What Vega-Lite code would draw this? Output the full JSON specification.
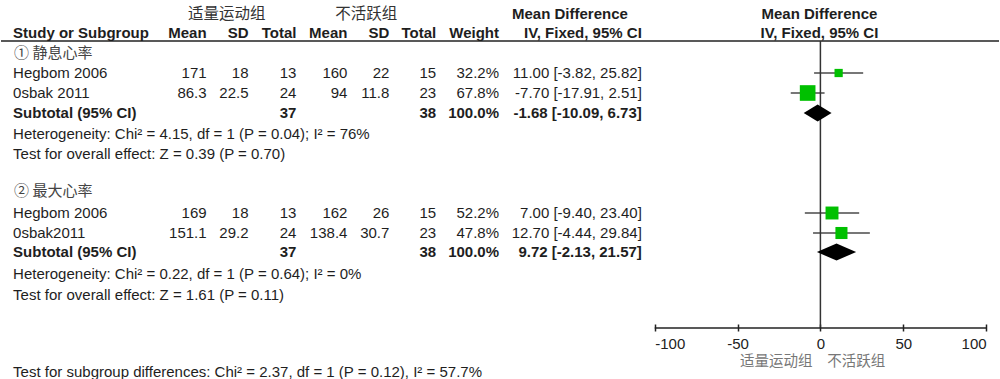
{
  "$schema": "https://vega.github.io/schema/vega-lite/v6.json",
  "width": 1000,
  "height": 379,
  "padding": 0,
  "autosize": {"type": "fit", "contains": "padding"},
  "background": "white",
  "config": {
    "view": {"stroke": null},
    "text": {"font": "Liberation Sans", "fontSize": 15, "color": "#1e1e1e", "baseline": "middle"}
  },
  "datasets": {
    "studies": [
      {"grp": 1, "row": 3, "study": "Hegbom 2006", "m1": 171, "sd1": 18, "n1": 13, "m2": 160, "sd2": 22, "n2": 15, "w": 0.322, "md": 11.0, "lo": -3.82, "hi": 25.82, "ci": "11.00 [-3.82, 25.82]"},
      {"grp": 1, "row": 4, "study": "0sbak 2011", "m1": 86.3, "sd1": 22.5, "n1": 24, "m2": 94, "sd2": 11.8, "n2": 23, "w": 0.678, "md": -7.7, "lo": -17.91, "hi": 2.51, "ci": "-7.70 [-17.91, 2.51]"},
      {"grp": 2, "row": 10, "study": "Hegbom 2006", "m1": 169, "sd1": 18, "n1": 13, "m2": 162, "sd2": 26, "n2": 15, "w": 0.522, "md": 7.0, "lo": -9.4, "hi": 23.4, "ci": "7.00 [-9.40, 23.40]"},
      {"grp": 2, "row": 11, "study": "0sbak2011", "m1": 151.1, "sd1": 29.2, "n1": 24, "m2": 138.4, "sd2": 30.7, "n2": 23, "w": 0.478, "md": 12.7, "lo": -4.44, "hi": 29.84, "ci": "12.70 [-4.44, 29.84]"}
    ],
    "subtotals": [
      {"grp": 1, "row": 5, "label": "Subtotal (95% CI)", "n1": 37, "n2": 38, "w": 1.0, "md": -1.68, "lo": -10.09, "hi": 6.73, "ci": "-1.68 [-10.09, 6.73]"},
      {"grp": 2, "row": 11.95, "label": "Subtotal (95% CI)", "n1": 37, "n2": 38, "w": 1.0, "md": 9.72, "lo": -2.13, "hi": 21.57, "ci": "9.72 [-2.13, 21.57]"}
    ],
    "notes": [
      {"row": 6.05, "text": "Heterogeneity: Chi² = 4.15, df = 1 (P = 0.04); I² = 76%"},
      {"row": 7.05, "text": "Test for overall effect: Z = 0.39 (P = 0.70)"},
      {"row": 13.05, "text": "Heterogeneity: Chi² = 0.22, df = 1 (P = 0.64); I² = 0%"},
      {"row": 14.1, "text": "Test for overall effect: Z = 1.61 (P = 0.11)"}
    ],
    "footer": [
      {"row": 17.95, "text": "Test for subgroup differences: Chi² = 2.37, df = 1 (P = 0.12), I² = 57.7%"}
    ],
    "groups": [
      {"row": 2, "text": "① 静息心率"},
      {"row": 8.9, "text": "② 最大心率"}
    ],
    "one": [{"k": 1}]
  },
  "layer": [
    {
      "data": {"name": "studies"},
      "mark": {"type": "rule", "color": "#4a4a4a", "strokeWidth": 1.6},
      "encoding": {
        "x": {
          "field": "lo", "type": "quantitative",
          "scale": {"domain": [-494.6, 107.8], "nice": false, "zero": false},
          "axis": {
            "values": [-100, -50, 0, 50, 100], "domain": false, "grid": false,
            "labelOverlap": false, "labelBound": false, "offset": -55,
            "tickSize": 7, "tickWidth": 1.5, "tickColor": "#222",
            "labelFont": "Liberation Sans", "labelFontSize": 15, "labelColor": "#222",
            "labelPadding": 5, "title": null,
            "labelExpr": "'' + datum.value",
            "labelAlign": {"expr": "datum.value == -100 ? 'left' : datum.value == 100 ? 'right' : 'center'"}
          }
        },
        "x2": {"field": "hi"},
        "y": {"field": "row", "type": "quantitative", "scale": {"domain": [-0.65, 18.3], "reverse": true, "nice": false, "zero": false}, "axis": null}
      }
    },
    {
      "data": {"name": "one"},
      "mark": {"type": "rule", "color": "#222", "strokeWidth": 1.5},
      "encoding": {"y": {"datum": 1.4, "type": "quantitative", "axis": null}}
    },
    {
      "data": {"name": "one"},
      "mark": {"type": "rule", "color": "#333", "strokeWidth": 1.5},
      "encoding": {
        "x": {"datum": 0, "type": "quantitative"},
        "y": {"datum": 1.4, "type": "quantitative", "axis": null},
        "y2": {"datum": 15.75}
      }
    },
    {
      "data": {"name": "one"},
      "mark": {"type": "rule", "color": "#222", "strokeWidth": 1.5},
      "encoding": {
        "x": {"datum": -100, "type": "quantitative"},
        "x2": {"datum": 100},
        "y": {"datum": 15.75, "type": "quantitative", "axis": null}
      }
    },
    {
      "data": {"name": "studies"},
      "mark": {"type": "point", "shape": "square", "filled": true, "color": "#00c000", "opacity": 1},
      "encoding": {
        "x": {"field": "md", "type": "quantitative"},
        "y": {"field": "row", "type": "quantitative", "axis": null},
        "size": {"field": "w", "type": "quantitative", "scale": {"type": "linear", "domain": [0.322, 0.678], "range": [68, 245], "zero": false, "nice": false}, "legend": null}
      }
    },
    {
      "data": {"name": "subtotals"},
      "transform": [
        {"fold": ["lo", "md", "hi"], "as": ["k", "xv"]},
        {"calculate": "datum.k === 'md' ? datum.row - 0.43 : datum.row", "as": "yt"},
        {"calculate": "datum.k === 'md' ? datum.row + 0.43 : datum.row", "as": "yb"}
      ],
      "mark": {"type": "area", "orient": "vertical", "color": "black", "opacity": 1},
      "encoding": {
        "x": {"field": "xv", "type": "quantitative"},
        "y": {"field": "yt", "type": "quantitative", "axis": null},
        "y2": {"field": "yb"},
        "detail": {"field": "grp", "type": "nominal"}
      }
    },
    {"data": {"name": "studies"}, "mark": {"type": "text", "align": "left"}, "encoding": {"x": {"datum": -487.3, "type": "quantitative"}, "y": {"field": "row", "type": "quantitative", "axis": null}, "text": {"field": "study", "type": "nominal"}}},
    {"data": {"name": "studies"}, "mark": {"type": "text", "align": "right"}, "encoding": {"x": {"datum": -370.5, "type": "quantitative"}, "y": {"field": "row", "type": "quantitative", "axis": null}, "text": {"field": "m1", "type": "nominal"}}},
    {"data": {"name": "studies"}, "mark": {"type": "text", "align": "right"}, "encoding": {"x": {"datum": -345.2, "type": "quantitative"}, "y": {"field": "row", "type": "quantitative", "axis": null}, "text": {"field": "sd1", "type": "nominal"}}},
    {"data": {"name": "studies"}, "mark": {"type": "text", "align": "right"}, "encoding": {"x": {"datum": -316.3, "type": "quantitative"}, "y": {"field": "row", "type": "quantitative", "axis": null}, "text": {"field": "n1", "type": "nominal"}}},
    {"data": {"name": "studies"}, "mark": {"type": "text", "align": "right"}, "encoding": {"x": {"datum": -285.5, "type": "quantitative"}, "y": {"field": "row", "type": "quantitative", "axis": null}, "text": {"field": "m2", "type": "nominal"}}},
    {"data": {"name": "studies"}, "mark": {"type": "text", "align": "right"}, "encoding": {"x": {"datum": -260.2, "type": "quantitative"}, "y": {"field": "row", "type": "quantitative", "axis": null}, "text": {"field": "sd2", "type": "nominal"}}},
    {"data": {"name": "studies"}, "mark": {"type": "text", "align": "right"}, "encoding": {"x": {"datum": -231.9, "type": "quantitative"}, "y": {"field": "row", "type": "quantitative", "axis": null}, "text": {"field": "n2", "type": "nominal"}}},
    {"data": {"name": "studies"}, "mark": {"type": "text", "align": "right"}, "encoding": {"x": {"datum": -194.0, "type": "quantitative"}, "y": {"field": "row", "type": "quantitative", "axis": null}, "text": {"field": "w", "type": "quantitative", "format": ".1%"}}},
    {"data": {"name": "studies"}, "mark": {"type": "text", "align": "right"}, "encoding": {"x": {"datum": -107.8, "type": "quantitative"}, "y": {"field": "row", "type": "quantitative", "axis": null}, "text": {"field": "ci", "type": "nominal"}}},
    {"data": {"name": "subtotals"}, "mark": {"type": "text", "align": "left", "fontWeight": "bold"}, "encoding": {"x": {"datum": -487.3, "type": "quantitative"}, "y": {"field": "row", "type": "quantitative", "axis": null}, "text": {"field": "label", "type": "nominal"}}},
    {"data": {"name": "subtotals"}, "mark": {"type": "text", "align": "right", "fontWeight": "bold"}, "encoding": {"x": {"datum": -316.3, "type": "quantitative"}, "y": {"field": "row", "type": "quantitative", "axis": null}, "text": {"field": "n1", "type": "nominal"}}},
    {"data": {"name": "subtotals"}, "mark": {"type": "text", "align": "right", "fontWeight": "bold"}, "encoding": {"x": {"datum": -231.9, "type": "quantitative"}, "y": {"field": "row", "type": "quantitative", "axis": null}, "text": {"field": "n2", "type": "nominal"}}},
    {"data": {"name": "subtotals"}, "mark": {"type": "text", "align": "right", "fontWeight": "bold"}, "encoding": {"x": {"datum": -194.0, "type": "quantitative"}, "y": {"field": "row", "type": "quantitative", "axis": null}, "text": {"field": "w", "type": "quantitative", "format": ".1%"}}},
    {"data": {"name": "subtotals"}, "mark": {"type": "text", "align": "right", "fontWeight": "bold"}, "encoding": {"x": {"datum": -107.8, "type": "quantitative"}, "y": {"field": "row", "type": "quantitative", "axis": null}, "text": {"field": "ci", "type": "nominal"}}},
    {"data": {"name": "notes"}, "mark": {"type": "text", "align": "left"}, "encoding": {"x": {"datum": -487.3, "type": "quantitative"}, "y": {"field": "row", "type": "quantitative", "axis": null}, "text": {"field": "text", "type": "nominal"}}},
    {"data": {"name": "footer"}, "mark": {"type": "text", "align": "left", "clip": true}, "encoding": {"x": {"datum": -487.3, "type": "quantitative"}, "y": {"field": "row", "type": "quantitative", "axis": null}, "text": {"field": "text", "type": "nominal"}}},
    {"data": {"name": "groups"}, "mark": {"type": "text", "align": "left", "font": "Noto Sans CJK SC", "color": "#444"}, "encoding": {"x": {"datum": -486.7, "type": "quantitative"}, "y": {"field": "row", "type": "quantitative", "axis": null}, "text": {"field": "text", "type": "nominal"}}},
    {"data": {"name": "one"}, "mark": {"type": "text", "align": "center", "font": "Noto Sans CJK SC", "fontSize": 15.5, "color": "#333"}, "encoding": {"x": {"datum": -358.4, "type": "quantitative"}, "y": {"datum": 0.05, "type": "quantitative", "axis": null}, "text": {"value": "适量运动组"}}},
    {"data": {"name": "one"}, "mark": {"type": "text", "align": "center", "font": "Noto Sans CJK SC", "fontSize": 15.5, "color": "#333"}, "encoding": {"x": {"datum": -274.1, "type": "quantitative"}, "y": {"datum": 0.05, "type": "quantitative", "axis": null}, "text": {"value": "不活跃组"}}},
    {"data": {"name": "one"}, "mark": {"type": "text", "align": "center", "fontWeight": "bold"}, "encoding": {"x": {"datum": -151.2, "type": "quantitative"}, "y": {"datum": 0.05, "type": "quantitative", "axis": null}, "text": {"value": "Mean Difference"}}},
    {"data": {"name": "one"}, "mark": {"type": "text", "align": "center", "fontWeight": "bold"}, "encoding": {"x": {"datum": -0.6, "type": "quantitative"}, "y": {"datum": 0.05, "type": "quantitative", "axis": null}, "text": {"value": "Mean Difference"}}},
    {"data": {"name": "one"}, "mark": {"type": "text", "align": "left", "fontWeight": "bold"}, "encoding": {"x": {"datum": -487.3, "type": "quantitative"}, "y": {"datum": 1, "type": "quantitative", "axis": null}, "text": {"value": "Study or Subgroup"}}},
    {"data": {"name": "one"}, "mark": {"type": "text", "align": "right", "fontWeight": "bold"}, "encoding": {"x": {"datum": -370.5, "type": "quantitative"}, "y": {"datum": 1, "type": "quantitative", "axis": null}, "text": {"value": "Mean"}}},
    {"data": {"name": "one"}, "mark": {"type": "text", "align": "right", "fontWeight": "bold"}, "encoding": {"x": {"datum": -345.2, "type": "quantitative"}, "y": {"datum": 1, "type": "quantitative", "axis": null}, "text": {"value": "SD"}}},
    {"data": {"name": "one"}, "mark": {"type": "text", "align": "right", "fontWeight": "bold"}, "encoding": {"x": {"datum": -316.3, "type": "quantitative"}, "y": {"datum": 1, "type": "quantitative", "axis": null}, "text": {"value": "Total"}}},
    {"data": {"name": "one"}, "mark": {"type": "text", "align": "right", "fontWeight": "bold"}, "encoding": {"x": {"datum": -285.5, "type": "quantitative"}, "y": {"datum": 1, "type": "quantitative", "axis": null}, "text": {"value": "Mean"}}},
    {"data": {"name": "one"}, "mark": {"type": "text", "align": "right", "fontWeight": "bold"}, "encoding": {"x": {"datum": -260.2, "type": "quantitative"}, "y": {"datum": 1, "type": "quantitative", "axis": null}, "text": {"value": "SD"}}},
    {"data": {"name": "one"}, "mark": {"type": "text", "align": "right", "fontWeight": "bold"}, "encoding": {"x": {"datum": -231.9, "type": "quantitative"}, "y": {"datum": 1, "type": "quantitative", "axis": null}, "text": {"value": "Total"}}},
    {"data": {"name": "one"}, "mark": {"type": "text", "align": "right", "fontWeight": "bold"}, "encoding": {"x": {"datum": -194.0, "type": "quantitative"}, "y": {"datum": 1, "type": "quantitative", "axis": null}, "text": {"value": "Weight"}}},
    {"data": {"name": "one"}, "mark": {"type": "text", "align": "right", "fontWeight": "bold"}, "encoding": {"x": {"datum": -107.8, "type": "quantitative"}, "y": {"datum": 1, "type": "quantitative", "axis": null}, "text": {"value": "IV, Fixed, 95% CI"}}},
    {"data": {"name": "one"}, "mark": {"type": "text", "align": "center", "fontWeight": "bold"}, "encoding": {"x": {"datum": -0.6, "type": "quantitative"}, "y": {"datum": 1, "type": "quantitative", "axis": null}, "text": {"value": "IV, Fixed, 95% CI"}}},
    {"data": {"name": "one"}, "mark": {"type": "text", "align": "right", "font": "Noto Sans CJK SC", "fontSize": 14.5, "color": "#777"}, "encoding": {"x": {"datum": -4.8, "type": "quantitative"}, "y": {"datum": 17.45, "type": "quantitative", "axis": null}, "text": {"value": "适量运动组"}}},
    {"data": {"name": "one"}, "mark": {"type": "text", "align": "left", "font": "Noto Sans CJK SC", "fontSize": 14.5, "color": "#777"}, "encoding": {"x": {"datum": 4.2, "type": "quantitative"}, "y": {"datum": 17.45, "type": "quantitative", "axis": null}, "text": {"value": "不活跃组"}}}
  ]
}
